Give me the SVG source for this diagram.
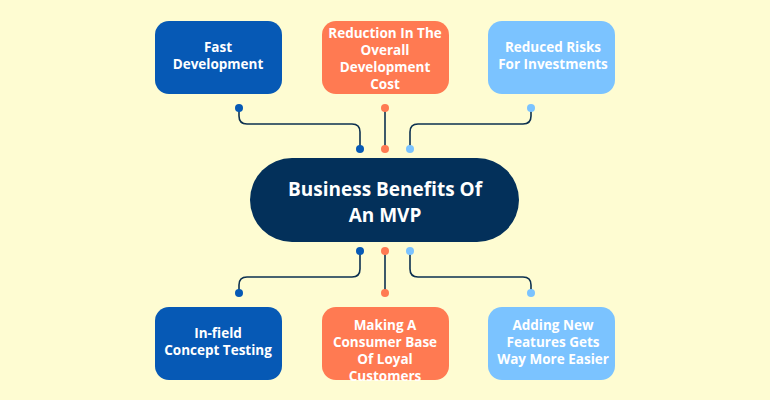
<svg xmlns="http://www.w3.org/2000/svg" width="770" height="400" viewBox="0 0 770 400">
<style>
.t{font-family:"Open Sans","Liberation Sans",sans-serif;font-weight:700;font-size:13.5px;fill:#fff;text-anchor:middle}
.c{fill:none;stroke:#0d3050;stroke-width:1.6}
.db{fill:#0659B5}.or{fill:#FF7A52}.lb{fill:#7BC3FF}
</style>
<rect width="770" height="400" fill="#FEFCD2"/>
<g id="connectors">
<path class="c" d="M239 108V116Q239 124 247 124H352Q360 124 360 132V149"/>
<path class="c" d="M385 108V149"/>
<path class="c" d="M531 108V116Q531 124 523 124H418Q410 124 410 132V149"/>
<path class="c" d="M239 293V285Q239 277 247 277H352Q360 277 360 269V251"/>
<path class="c" d="M385 251V293"/>
<path class="c" d="M531 293V285Q531 277 523 277H418Q410 277 410 269V251"/>
<circle class="db" cx="239" cy="108" r="4"/><circle class="db" cx="360" cy="149" r="4"/>
<circle class="or" cx="385" cy="108" r="4"/><circle class="or" cx="385" cy="149" r="4"/>
<circle class="lb" cx="531" cy="108" r="4"/><circle class="lb" cx="410" cy="149" r="4"/>
<circle class="db" cx="239" cy="293" r="4"/><circle class="db" cx="360" cy="251" r="4"/>
<circle class="or" cx="385" cy="293" r="4"/><circle class="or" cx="385" cy="251" r="4"/>
<circle class="lb" cx="531" cy="293" r="4"/><circle class="lb" cx="410" cy="251" r="4"/>
</g>
<g id="center"><rect x="250" y="158" width="269" height="84" rx="42" fill="#03305A"/>
<text class="t" x="385" y="196" style="font-size:19px">Business Benefits Of</text>
<text class="t" x="385" y="222" style="font-size:19px">An MVP</text></g>
<g id="n1"><rect class="db" x="155" y="21" width="127" height="73" rx="14"/>
<text class="t" x="218" y="52">Fast</text><text class="t" x="218" y="69">Development</text></g>
<g id="n2"><rect class="or" x="322" y="21" width="127" height="73" rx="14"/>
<text class="t" x="385" y="38">Reduction In The</text><text class="t" x="385" y="55">Overall</text><text class="t" x="385" y="72">Development</text><text class="t" x="385" y="89">Cost</text></g>
<g id="n3"><rect class="lb" x="488" y="21" width="127" height="73" rx="14"/>
<text class="t" x="553" y="52">Reduced Risks</text><text class="t" x="553" y="69">For Investments</text></g>
<g id="n4"><rect class="db" x="155" y="307" width="127" height="73" rx="14"/>
<text class="t" x="218" y="338">In-field</text><text class="t" x="218" y="355">Concept Testing</text></g>
<g id="n5"><rect class="or" x="322" y="307" width="127" height="73" rx="14"/>
<text class="t" x="385" y="330">Making A</text><text class="t" x="385" y="347">Consumer Base</text><text class="t" x="385" y="364">Of Loyal</text><text class="t" x="385" y="381">Customers</text></g>
<g id="n6"><rect class="lb" x="488" y="307" width="127" height="73" rx="14"/>
<text class="t" x="553" y="330">Adding New</text><text class="t" x="553" y="347">Features Gets</text><text class="t" x="553" y="364">Way More Easier</text></g>
</svg>
